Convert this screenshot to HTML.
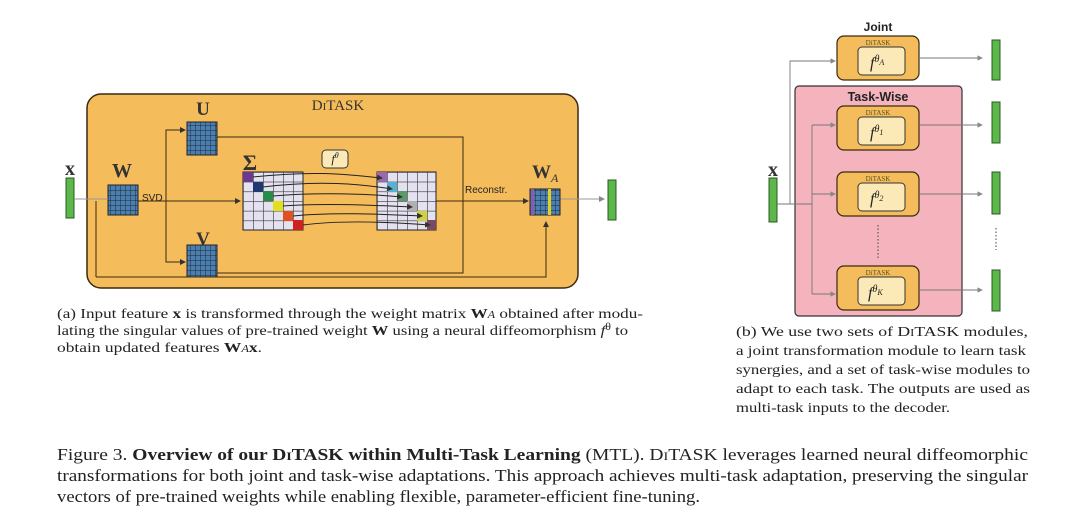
<!DOCTYPE html>
<html><head><meta charset="utf-8"><style>
html,body{margin:0;padding:0;background:#fff}
svg{display:block}
.s{font-family:"Liberation Serif",serif}
.a{font-family:"Liberation Sans",sans-serif}
</style></head><body>
<svg width="1080" height="524" viewBox="0 0 1080 524" xmlns="http://www.w3.org/2000/svg">
<defs>
<pattern id="bg" width="5" height="5" patternUnits="userSpaceOnUse"><rect width="5" height="5" fill="#4a7fb0"/><path d="M0 0H5M0 0V5" stroke="#1d2a3a" stroke-width="1"/></pattern>
<pattern id="sg" x="243" y="172" width="10" height="9.7" patternUnits="userSpaceOnUse"><rect width="10" height="10" fill="#e4e2f0"/><path d="M0 0H10M0 0V10" stroke="#333" stroke-width="1.2"/></pattern>
<pattern id="sg2" x="377" y="172" width="10" height="9.7" patternUnits="userSpaceOnUse"><rect width="10" height="10" fill="#e4e2f0"/><path d="M0 0H10M0 0V10" stroke="#333" stroke-width="1.2"/></pattern>
<marker id="ar" markerWidth="6" markerHeight="6" refX="5" refY="3" orient="auto"><path d="M0 0L6 3L0 6z" fill="#333"/></marker>
<marker id="ag" markerWidth="6" markerHeight="6" refX="5" refY="3" orient="auto"><path d="M0 0L6 3L0 6z" fill="#888"/></marker>
</defs>

<!-- Left panel -->
<rect x="87" y="94" width="491" height="194" rx="14" fill="#f5bc5c" stroke="#3a2a10" stroke-width="1.5"/>
<text x="338" y="110" class="s" font-size="15" fill="#333" text-anchor="middle">D<tspan font-size="11">I</tspan>TASK</text>
<text x="70" y="175" class="s" font-size="20" font-weight="bold" fill="#333" text-anchor="middle">x</text>
<rect x="66" y="178" width="8" height="40" fill="#5cb84a" stroke="#2a5a20"/>
<text x="122" y="177" class="s" font-size="20" font-weight="bold" fill="#333" text-anchor="middle">W</text>
<rect x="108" y="185" width="30" height="30" fill="url(#bg)" stroke="#222"/>
<text x="142" y="201" class="a" font-size="10" fill="#222">SVD</text>
<text x="203" y="115" class="s" font-size="19" font-weight="bold" fill="#333" text-anchor="middle">U</text>
<rect x="187" y="122" width="30" height="33" fill="url(#bg)" stroke="#222"/>
<text x="203" y="245" class="s" font-size="19" font-weight="bold" fill="#333" text-anchor="middle">V</text>
<rect x="187" y="245" width="30" height="32" fill="url(#bg)" stroke="#222"/>
<text x="250" y="170" class="s" font-size="22" font-weight="bold" fill="#333" text-anchor="middle">Σ</text>
<rect x="243" y="172" width="60" height="58" fill="url(#sg)" stroke="#222"/>
<rect x="243" y="172" width="10" height="10" fill="#6a3a90"/><rect x="253" y="182" width="10" height="10" fill="#1f3a70"/><rect x="263" y="191" width="10" height="10" fill="#2a8a4a"/><rect x="273" y="201" width="10" height="10" fill="#e0e020"/><rect x="283" y="211" width="10" height="10" fill="#e05020"/><rect x="293" y="220" width="10" height="10" fill="#d02020"/>
<rect x="377" y="172" width="59" height="58" fill="url(#sg2)" stroke="#222"/>
<rect x="377" y="172" width="10" height="10" fill="#9a6ab0"/><rect x="387" y="182" width="10" height="10" fill="#5ab0d0"/><rect x="397" y="191" width="10" height="10" fill="#5a9a6a"/><rect x="407" y="201" width="10" height="10" fill="#b0b0b0"/><rect x="417" y="211" width="10" height="10" fill="#d0d040"/><rect x="427" y="220" width="9" height="10" fill="#7a4a60"/>
<rect x="322" y="150" width="26" height="18" rx="4" fill="#fbe9b8" stroke="#333"/>
<text x="335" y="163" class="s" font-size="12" font-style="italic" fill="#222" text-anchor="middle">f<tspan font-size="8" dy="-5">θ</tspan></text>
<g fill="none" stroke="#222" stroke-width="1">
<path d="M253 177C320 170 350 175 382 178" marker-end="url(#ar)"/>
<path d="M263 187C320 180 360 184 392 189" marker-end="url(#ar)"/>
<path d="M273 196C320 192 370 194 402 197" marker-end="url(#ar)"/>
<path d="M283 206C320 203 370 205 412 207" marker-end="url(#ar)"/>
<path d="M293 216C330 212 380 214 422 216" marker-end="url(#ar)"/>
<path d="M303 225C340 220 390 222 430 225" marker-end="url(#ar)"/>
</g>
<g fill="none" stroke="#3a2a10" stroke-width="1">
<path d="M138 201H240" marker-end="url(#ar)"/>
<path d="M166 262V130H185" marker-end="url(#ar)"/>
<path d="M166 201V262H185" marker-end="url(#ar)"/>
<path d="M217 137H463V201"/>
<path d="M217 273H463V201"/>
<path d="M436 201H528" marker-end="url(#ar)"/>
<path d="M96 277H546V222" marker-end="url(#ar)"/>
<path d="M96 201V277"/>
</g>
<path d="M74 199H108" stroke="#999"/>
<path d="M560 199H604" stroke="#999" marker-end="url(#ag)"/>
<text x="465" y="193" class="a" font-size="10" fill="#222">Reconstr.</text>
<text x="532" y="178" class="s" font-size="19" font-weight="bold" fill="#333">W<tspan font-size="12" font-style="italic" font-weight="normal" dy="4">A</tspan></text>
<rect x="530" y="189" width="30" height="26" fill="url(#bg)" stroke="#222"/>
<rect x="548" y="189" width="3" height="26" fill="#e0d020"/><rect x="531" y="189" width="3" height="26" fill="#8a5ab0"/>
<rect x="608" y="180" width="8" height="40" fill="#5cb84a" stroke="#2a5a20"/>

<!-- Right panel -->
<text x="878" y="31" class="a" font-size="12" font-weight="bold" fill="#222" text-anchor="middle">Joint</text>
<rect x="795" y="86" width="167" height="230" rx="4" fill="#f4b3bd" stroke="#333" stroke-width="1.2"/>
<text x="878" y="101" class="a" font-size="12.5" font-weight="bold" fill="#222" text-anchor="middle">Task-Wise</text>
<g>
<rect x="837" y="36" width="82" height="44" rx="7" fill="#f5bc5c" stroke="#3a2a10" stroke-width="1.2"/>
<text x="878" y="45" class="s" font-size="7" fill="#552" text-anchor="middle">DiTASK</text>
<rect x="858" y="47" width="47" height="28" rx="4" fill="#fbe9b8" stroke="#333"/>
<text x="870" y="68" class="s" font-size="16" font-style="italic" fill="#222">f<tspan font-size="10" dy="-6">θ</tspan><tspan font-size="8" dy="3">A</tspan></text>
</g>
<g>
<rect x="837" y="106" width="82" height="44" rx="7" fill="#f5bc5c" stroke="#3a2a10" stroke-width="1.2"/>
<text x="878" y="115" class="s" font-size="7" fill="#552" text-anchor="middle">DiTASK</text>
<rect x="858" y="117" width="47" height="28" rx="4" fill="#fbe9b8" stroke="#333"/>
<text x="870" y="138" class="s" font-size="16" font-style="italic" fill="#222">f<tspan font-size="10" dy="-6">θ</tspan><tspan font-size="8" dy="3">1</tspan></text>
</g>
<g>
<rect x="837" y="172" width="82" height="44" rx="7" fill="#f5bc5c" stroke="#3a2a10" stroke-width="1.2"/>
<text x="878" y="181" class="s" font-size="7" fill="#552" text-anchor="middle">DiTASK</text>
<rect x="858" y="183" width="47" height="28" rx="4" fill="#fbe9b8" stroke="#333"/>
<text x="870" y="204" class="s" font-size="16" font-style="italic" fill="#222">f<tspan font-size="10" dy="-6">θ</tspan><tspan font-size="8" dy="3">2</tspan></text>
</g>
<g>
<rect x="837" y="266" width="82" height="44" rx="7" fill="#f5bc5c" stroke="#3a2a10" stroke-width="1.2"/>
<text x="878" y="275" class="s" font-size="7" fill="#552" text-anchor="middle">DiTASK</text>
<rect x="858" y="277" width="47" height="28" rx="4" fill="#fbe9b8" stroke="#333"/>
<text x="868" y="298" class="s" font-size="16" font-style="italic" fill="#222">f<tspan font-size="10" dy="-6">θ</tspan><tspan font-size="8" dy="3">K</tspan></text>
</g>
<path d="M878 225V258" stroke="#444" stroke-dasharray="1.5 2"/>
<path d="M996 228V250" stroke="#444" stroke-dasharray="1.5 2"/>
<text x="773" y="176" class="s" font-size="20" font-weight="bold" fill="#333" text-anchor="middle">x</text>
<rect x="769" y="178" width="8" height="44" fill="#5cb84a" stroke="#2a5a20"/>
<g fill="none" stroke="#777" stroke-width="0.9">
<path d="M777 204H812"/>
<path d="M790 204V61H835" marker-end="url(#ag)"/>
<path d="M812 125V294"/>
<path d="M812 125H835" marker-end="url(#ag)"/>
<path d="M812 194H835" marker-end="url(#ag)"/>
<path d="M812 294H835" marker-end="url(#ag)"/>
<path d="M919 58H982" marker-end="url(#ag)"/>
<path d="M919 125H982" marker-end="url(#ag)"/>
<path d="M919 194H982" marker-end="url(#ag)"/>
<path d="M919 290H982" marker-end="url(#ag)"/>
</g>
<rect x="992" y="40" width="8" height="40" fill="#5cb84a" stroke="#2a5a20"/>
<rect x="992" y="102" width="8" height="41" fill="#5cb84a" stroke="#2a5a20"/>
<rect x="992" y="172" width="8" height="42" fill="#5cb84a" stroke="#2a5a20"/>
<rect x="992" y="270" width="8" height="41" fill="#5cb84a" stroke="#2a5a20"/>

<!-- Captions -->
<g class="s" font-size="14" fill="#222">
<text x="57" y="318" textLength="586" lengthAdjust="spacingAndGlyphs">(a) Input feature <tspan font-weight="bold">x</tspan> is transformed through the weight matrix <tspan font-weight="bold">W</tspan><tspan font-size="10" font-style="italic">A</tspan> obtained after modu-</text>
<text x="57" y="335" textLength="571" lengthAdjust="spacingAndGlyphs">lating the singular values of pre-trained weight <tspan font-weight="bold">W</tspan> using a neural diffeomorphism <tspan font-style="italic">f</tspan><tspan font-size="10" dy="-5">θ</tspan><tspan dy="5"> to</tspan></text>
<text x="57" y="352" textLength="205" lengthAdjust="spacingAndGlyphs">obtain updated features <tspan font-weight="bold">W</tspan><tspan font-size="10" font-style="italic">A</tspan><tspan font-weight="bold">x</tspan>.</text>
<text x="736" y="336" textLength="292" lengthAdjust="spacingAndGlyphs">(b) We use two sets of D<tspan font-size="10">I</tspan>TASK modules,</text>
<text x="736" y="355" textLength="290" lengthAdjust="spacingAndGlyphs">a joint transformation module to learn task</text>
<text x="736" y="374" textLength="294" lengthAdjust="spacingAndGlyphs">synergies, and a set of task-wise modules to</text>
<text x="736" y="393" textLength="294" lengthAdjust="spacingAndGlyphs">adapt to each task. The outputs are used as</text>
<text x="736" y="412" textLength="214" lengthAdjust="spacingAndGlyphs">multi-task inputs to the decoder.</text>
</g>
<g class="s" font-size="16.5" fill="#222">
<text x="57" y="460" textLength="971" lengthAdjust="spacingAndGlyphs">Figure 3. <tspan font-weight="bold">Overview of our D<tspan font-size="12">I</tspan>TASK within Multi-Task Learning</tspan> (MTL). D<tspan font-size="12">I</tspan>TASK leverages learned neural diffeomorphic</text>
<text x="57" y="481" textLength="971" lengthAdjust="spacingAndGlyphs">transformations for both joint and task-wise adaptations. This approach achieves multi-task adaptation, preserving the singular</text>
<text x="57" y="502" textLength="643" lengthAdjust="spacingAndGlyphs">vectors of pre-trained weights while enabling flexible, parameter-efficient fine-tuning.</text>
</g>
</svg>
</body></html>
